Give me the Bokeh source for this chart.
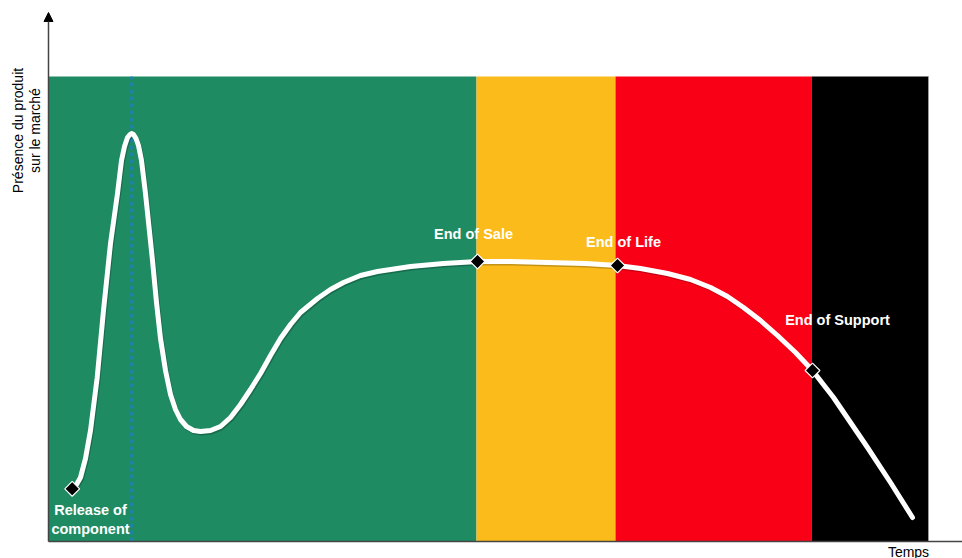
import numpy as np
from bokeh.plotting import figure
from bokeh.models import Range1d, Label, Arrow, NormalHead, ColumnDataSource
from bokeh.embed import file_html
from bokeh.resources import INLINE

# ---- data (time units, presence units; origin at the axes' corner) ----
phase_names = ["Commercialisation", "End of Sale", "End of Life", "End of Support"]
phase_start = [0, 428, 567, 763]
phase_end = [428, 567, 763, 880]
phase_colors = ["#1e8b63", "#fbbb1a", "#fa0016", "#000000"]
band_top = 465

curve_t = [23.7, 28, 32, 37, 42, 48.7, 55, 62, 69, 73, 76, 79, 81.5, 83, 85, 87.5,
           90, 93, 97, 104, 108, 112, 117, 122, 127, 132, 138, 145, 152, 162, 172,
           182, 192, 202, 212, 222, 232, 242, 252, 269, 282, 295, 312, 329, 362,
           395, 429, 462, 499, 537, 569, 592, 619, 642, 662, 679, 695, 712, 729,
           747, 764, 785, 802, 819, 842, 864]
curve_presence = [52.7, 57, 64, 83, 111, 164, 231, 298, 348, 381, 395, 404, 407,
                  408, 407, 403, 396, 381, 348, 281, 239, 203, 171, 147, 132, 122,
                  115, 111, 110, 111, 115, 124, 137, 152, 168, 186, 203, 217, 229,
                  243, 252, 259, 266, 270, 275, 278, 280, 280, 279, 278, 276, 273,
                  268, 262, 254, 245, 234, 221, 206, 189, 171, 144, 119, 94, 59, 24]

milestone_names = ["Release of\ncomponent", "End of Sale", "End of Life", "End of Support"]
milestone_t = [23.7, 429, 569, 764]
milestone_presence = [52.7, 280, 276, 171]
label_t = [42, 425, 575, 789]
label_presence = [22, 308, 300, 222]

peak_t = 83
y_label_lines = ["Présence du produit", "sur le marché"]
x_label = "Temps"

# ---- figure ----
p = figure(width=962, height=558, output_backend="svg", toolbar_location=None,
           x_range=Range1d(-48, 914), y_range=Range1d(-17, 541),
           min_border=0, min_border_left=0, min_border_right=0,
           min_border_top=0, min_border_bottom=0)
p.axis.visible = False
p.grid.visible = False
p.outline_line_color = None
p.background_fill_color = "white"
p.border_fill_color = "white"

bands = ColumnDataSource(dict(left=phase_start, right=phase_end,
                              bottom=[0] * len(phase_start),
                              top=[band_top] * len(phase_start),
                              color=phase_colors))
p.quad(left="left", right="right", bottom="bottom", top="top", fill_color="color",
       line_color=None, source=bands)
# thin grey edge at the right of the last band
p.segment(x0=[phase_end[-1]], y0=[0], x1=[phase_end[-1]], y1=[band_top],
          line_color="#9a9a9a", line_width=1)

# dashed line at the peak
p.segment(x0=[peak_t], y0=[0], x1=[peak_t], y1=[band_top],
          line_color="#1a7ae0", line_width=2, line_dash="4 3")

# curve with slight shadow
ct = np.array(curve_t, dtype=float)
cp = np.array(curve_presence, dtype=float)
p.line(ct + 1, cp - 1.5, line_color="black", line_alpha=0.22, line_width=5,
       line_join="round", line_cap="round")
p.line(ct, cp, line_color="white", line_width=5, line_join="round", line_cap="round")

# milestones
p.scatter(milestone_t, milestone_presence, marker="square", angle=np.pi / 4, size=10.5,
          fill_color="black", line_color="white", line_width=1.2)

for name, tx, ty in zip(milestone_names, label_t, label_presence):
    p.add_layout(Label(x=tx, y=ty, text=name, text_align="center",
                       text_baseline="middle", text_color="white",
                       text_font="Liberation Sans", text_font_style="bold",
                       text_font_size="14.5px", text_line_height=1.2))

# axes with arrows
p.add_layout(Arrow(x_start=0, y_start=0, x_end=0, y_end=529,
                   line_color="#444444", line_width=1.5,
                   end=NormalHead(size=9, fill_color="black", line_color="black")))
p.add_layout(Arrow(x_start=0, y_start=0, x_end=930, y_end=0,
                   line_color="#444444", line_width=1.5,
                   end=NormalHead(size=9, fill_color="black", line_color="black")))

for i, line in enumerate(y_label_lines):
    p.add_layout(Label(x=-31 + 17 * i, y=411, text=line, angle=np.pi / 2,
                       text_align="center", text_baseline="middle",
                       text_color="black", text_font="Liberation Sans",
                       text_font_size="14px"))

p.add_layout(Label(x=860, y=-10, text=x_label, text_align="center",
                   text_baseline="middle", text_color="black",
                   text_font="Liberation Sans", text_font_size="14px"))

open("out.html", "w").write(file_html(p, INLINE))
